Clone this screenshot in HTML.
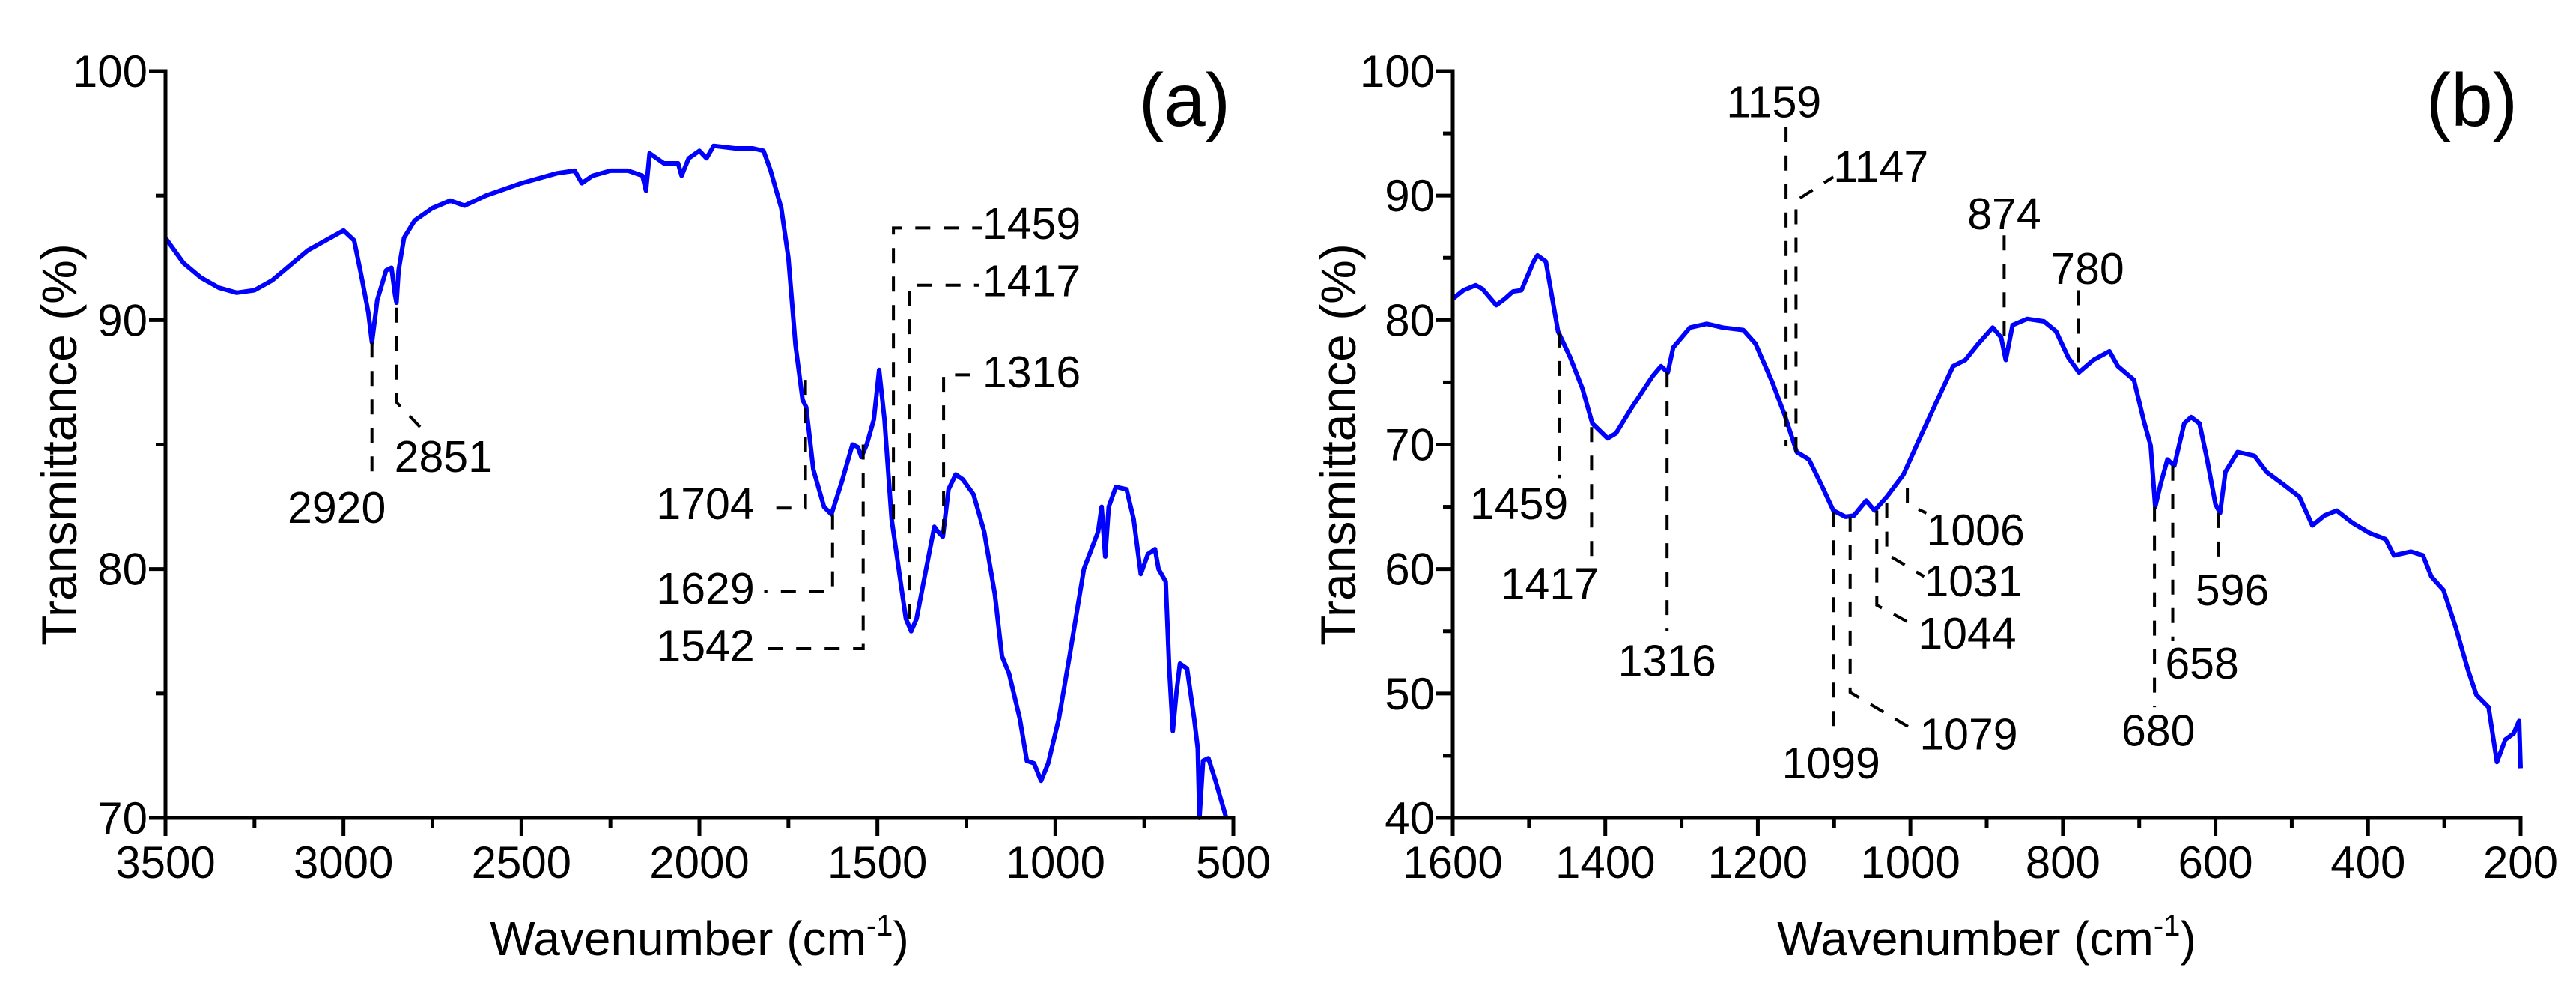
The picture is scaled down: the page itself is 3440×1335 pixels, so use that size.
<!DOCTYPE html>
<html><head><meta charset="utf-8"><style>
html,body{margin:0;padding:0;background:#fff;}
svg{display:block;font-family:"Liberation Sans",Arial,sans-serif;}
</style></head><body>
<svg id="chart" width="3440" height="1335" viewBox="0 0 3440 1335" xmlns="http://www.w3.org/2000/svg"></svg>
<script>
// ---- Panel (a) data ----
const aWave = [3500,3450,3400,3350,3300,3250,3200,3150,3100,3050,3000,2970,2950,2930,2920,2905,2880,2865,2855,2851,2845,2830,2800,2750,2700,2660,2600,2500,2400,2350,2330,2300,2250,2200,2160,2150,2140,2120,2100,2060,2050,2030,2000,1980,1960,1900,1850,1820,1800,1770,1750,1730,1710,1700,1680,1650,1629,1600,1570,1555,1545,1530,1510,1495,1480,1460,1440,1420,1405,1390,1370,1340,1330,1316,1300,1280,1260,1230,1200,1170,1150,1130,1100,1080,1060,1040,1020,990,960,920,880,870,860,850,830,800,780,760,740,720,710,690,680,670,660,650,630,610,600,595,585,570,550,520];
const aTrans = [93.3,92.3,91.7,91.3,91.1,91.2,91.6,92.2,92.8,93.2,93.6,93.2,91.8,90.3,89.1,90.8,92.0,92.1,91.0,90.7,92.0,93.3,94.0,94.5,94.8,94.6,95.0,95.5,95.9,96.0,95.5,95.8,96.0,96.0,95.8,95.2,96.7,96.5,96.3,96.3,95.8,96.5,96.8,96.5,97.0,96.9,96.9,96.8,96.0,94.5,92.5,89.0,86.8,86.5,84.0,82.5,82.2,83.5,85.0,84.9,84.5,85.0,86.0,88.0,86.0,82.0,80.0,78.0,77.5,78.0,79.5,81.7,81.5,81.3,83.2,83.8,83.6,83.0,81.5,79.0,76.5,75.8,74.0,72.3,72.2,71.5,72.2,74.0,76.5,80.0,81.5,82.5,80.5,82.5,83.3,83.2,82.0,79.8,80.6,80.8,80.0,79.5,76.0,73.5,75.0,76.2,76.0,74.0,72.8,70.0,72.3,72.4,71.5,70.0];
const aXTicks = ["3500","3000","2500","2000","1500","1000","500"];
const aYTicks = ["70","80","90","100"];
// ---- Panel (b) data ----
const bWave = [1600,1586,1570,1561,1543,1532,1521,1510,1494,1489,1478,1462,1446,1430,1417,1397,1386,1365,1338,1327,1318,1311,1289,1267,1246,1219,1203,1181,1165,1149,1133,1117,1101,1085,1074,1058,1047,1031,1009,987,966,944,928,911,892,881,875,866,847,825,809,793,779,760,739,728,707,694,685,679,672,663,654,641,632,621,611,600,594,587,571,549,533,511,490,473,457,441,420,398,377,366,344,328,317,301,285,269,258,242,231,220,209,202,200];
const bTrans = [81.7,82.4,82.8,82.5,81.2,81.7,82.3,82.4,84.7,85.2,84.7,79.1,77.0,74.5,71.7,70.5,70.9,73.0,75.5,76.3,75.8,77.8,79.4,79.7,79.4,79.2,78.1,75.0,72.4,69.4,68.8,66.8,64.7,64.2,64.3,65.5,64.7,65.8,67.6,70.6,73.4,76.3,76.8,78.1,79.4,78.6,76.8,79.6,80.1,79.9,79.1,77.0,75.8,76.8,77.5,76.3,75.2,71.9,69.9,65.0,66.8,68.8,68.3,71.7,72.2,71.7,68.8,65.2,64.5,67.8,69.4,69.1,67.8,66.8,65.8,63.5,64.3,64.7,63.7,62.9,62.4,61.1,61.4,61.1,59.4,58.3,55.3,51.9,49.9,48.9,44.5,46.3,46.8,47.8,44.0];
const bXTicks = ["1600","1400","1200","1000","800","600","400","200"];
const bYTicks = ["40","50","60","70","80","90","100"];
const aNotes = [
 ["2920",[[2920,89.1],[2920,83.4]],3019,81.85,"middle"],
 ["2851",[[2851,90.5],[2851,86.7],[2765,85.4]],2857,83.9,"start"],
 ["1704",[[1702,87.6],[1702,82.45],[1818,82.45]],1845,82.0,"end"],
 ["1629",[[1626,82.2],[1626,79.1],[1818,79.1]],1845,78.6,"end"],
 ["1542",[[1540,85.0],[1540,76.8],[1818,76.8]],1845,76.3,"end"],
 ["1459",[[1455,82.0],[1455,93.7],[1205,93.7]],1205,93.26,"start"],
 ["1417",[[1411,78.0],[1411,91.4],[1215,91.4]],1205,90.96,"start"],
 ["1316",[[1314,81.4],[1314,87.8],[1205,87.8]],1205,87.3,"start"]
];
const bNotes = [
 ["1459",[[1460,79.0],[1460,67.3]],1513,64.0,"middle"],
 ["1417",[[1418,71.4],[1418,60.6]],1473,57.6,"middle"],
 ["1316",[[1319,75.8],[1319,55.0]],1319,51.4,"middle"],
 ["1159",[[1163,95.5],[1163,69.9]],1179,96.3,"middle"],
 ["1147",[[1150,69.4],[1150,89.6],[1101,91.5]],1101,91.1,"start"],
 ["874",[[877,86.8],[877,78.1]],877,87.3,"middle"],
 ["780",[[780,82.4],[780,76.3]],768,82.9,"middle"],
 ["1006",[[1004,66.5],[1004,65.2],[979,64.5]],979,61.9,"start"],
 ["1031",[[1031,65.3],[1031,61.2],[982,59.4]],982,57.8,"start"],
 ["1044",[[1044,64.7],[1044,57.1],[990,55.3]],990,53.6,"start"],
 ["1079",[[1079,64.2],[1079,50.1],[988,46.8]],988,45.5,"start"],
 ["1099",[[1101,64.6],[1101,46.8]],1104,43.2,"middle"],
 ["680",[[680,65.0],[680,48.9]],675,45.8,"middle"],
 ["658",[[656,68.3],[656,54.2]],666,51.2,"start"],
 ["596",[[596,64.5],[596,60.4]],578,57.1,"middle"]
];

const NS="http://www.w3.org/2000/svg";
const svg=document.getElementById('chart');
function mk(tag,attrs,parent){const e=document.createElementNS(NS,tag);for(const k in attrs)e.setAttribute(k,attrs[k]);(parent||svg).appendChild(e);return e;}

function panel(cfg){
 const g=mk('g',{});
 
 
 const L=cfg.left,R=cfg.right,T=95,B=1092;
 const sx=v=>L+(cfg.xmax-v)/(cfg.xmax-cfg.xmin)*(R-L);
 const sy=v=>B-(v-cfg.ymin)/(cfg.ymax-cfg.ymin)*(B-T);
 const pts=cfg.wave.map((w,i)=>sx(w).toFixed(1)+','+sy(cfg.trans[i]).toFixed(1)).join(' ');
 const line=mk('polyline',{points:pts,fill:'none',stroke:'#0000ff','stroke-width':6,'stroke-linejoin':'round'},g);
 
 
 cfg.notes.forEach(n=>{
  const p=n[1].map(q=>sx(q[0]).toFixed(1)+','+sy(q[1]).toFixed(1)).join(' ');
  const pl=mk('polyline',{points:p,fill:'none',stroke:'#000','stroke-width':4,'stroke-dasharray':'20,18'},g);
  
  
  const t=mk('text',{x:sx(n[2]),y:sy(n[3]),'font-size':59,'text-anchor':n[4],fill:'#000'},g);
  t.textContent=n[0];
  
  
 });
 const ax=mk('path',{d:`M${L},${T} L${L},${B} L${R},${B}`,fill:'none',stroke:'#000','stroke-width':5,'stroke-linecap':'square'},g);
 
 
 const xt=cfg.xTicks.map(Number);
 const xstep=xt[0]-xt[1];
 for(let v=cfg.xmax;v>=cfg.xmin-0.01;v-=xstep/2){
  const major=Math.abs(((cfg.xmax-v)/xstep)%1)<0.01;
  mk('line',{x1:sx(v),y1:B,x2:sx(v),y2:B+(major?24:14),stroke:'#000','stroke-width':5},g);
 }
 cfg.xTicks.forEach(s=>{
  const t=mk('text',{x:sx(+s),y:1172,'font-size':60,'text-anchor':'middle'},g);
  t.textContent=s;
  
  
 });
 const yt=cfg.yTicks.map(Number);
 const ystep=yt[1]-yt[0];
 for(let v=cfg.ymin;v<=cfg.ymax+0.01;v+=ystep/2){
  const major=Math.abs(((v-cfg.ymin)/ystep)%1)<0.01;
  mk('line',{x1:L-(major?22:13),y1:sy(v),x2:L,y2:sy(v),stroke:'#000','stroke-width':5},g);
 }
 cfg.yTicks.forEach(s=>{
  const t=mk('text',{x:L-24,y:sy(+s)+21,'font-size':60,'text-anchor':'end'},g);
  t.textContent=s;
  
  
 });
 const xtl=mk('text',{x:(L+R)/2,y:1275,'font-size':64,'text-anchor':'middle'},g);
 xtl.innerHTML='Wavenumber (cm<tspan dy="-26" font-size="40">-1</tspan><tspan dy="26">)</tspan>';
 
 
 const ytl=mk('text',{x:0,y:0,'font-size':66,'text-anchor':'middle',transform:`translate(${cfg.ytx},${(T+B)/2}) rotate(-90)`},g);
 ytl.textContent='Transmittance (%)';
 
 
 const pl=mk('text',{x:R-4,y:168,'font-size':100,'text-anchor':'end'},g);
 pl.textContent=cfg.label;
 
 
}
panel({name:'panel-a',left:221,right:1647,xmin:500,xmax:3500,ymin:70,ymax:100,wave:aWave,trans:aTrans,notes:aNotes,xTicks:aXTicks,yTicks:aYTicks,ytx:102,label:'(a)'});
panel({name:'panel-b',left:1940,right:3366,xmin:200,xmax:1600,ymin:40,ymax:100,wave:bWave,trans:bTrans,notes:bNotes,xTicks:bXTicks,yTicks:bYTicks,ytx:1810,label:'(b)'});
</script>
</body></html>
